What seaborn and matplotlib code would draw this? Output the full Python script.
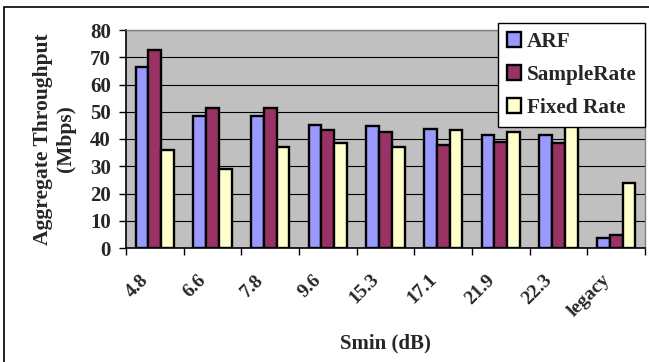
import numpy as np
import pandas as pd
import matplotlib
matplotlib.use('Agg')
import matplotlib.pyplot as plt
from matplotlib.patches import Rectangle
from matplotlib.ticker import FixedLocator
from matplotlib.transforms import ScaledTranslation
import seaborn as sns

# values
smin_labels = ['4.8', '6.6', '7.8', '9.6', '15.3', '17.1', '21.9', '22.3', 'legacy']
arf = [66.5, 48.5, 48.5, 45.0, 44.8, 43.6, 41.5, 41.5, 3.7]
samplerate = [72.6, 51.3, 51.3, 43.3, 42.4, 37.8, 38.8, 38.5, 4.9]
fixed_rate = [35.8, 28.9, 37.2, 38.7, 37.0, 43.2, 42.6, 46.0, 23.7]
methods = ['ARF', 'SampleRate', 'Fixed Rate']
colors = ['#9999FF', '#993366', '#FFFFCC']

rows = []
for name, vals in zip(methods, [arf, samplerate, fixed_rate]):
    for lbl, v in zip(smin_labels, vals):
        rows.append({'Smin': lbl, 'method': name, 'throughput': v})
df = pd.DataFrame(rows)

sns.set_style('white')
plt.rcParams['font.family'] = ['Liberation Serif', 'DejaVu Serif']
plt.rcParams['font.weight'] = 'bold'

fig = plt.figure(figsize=(6.49, 3.62), dpi=100)
ax = fig.add_axes([126 / 649, 114 / 362, 519 / 649, 218 / 362])
ax.set_facecolor('#C0C0C0')
ax.set_axisbelow(True)
ax.yaxis.grid(True, color='black', linewidth=0.8)

sns.barplot(data=df, x='Smin', y='throughput', hue='method', order=smin_labels,
            hue_order=methods, palette=colors, width=0.66, edgecolor='black',
            linewidth=1.7, saturation=1, ax=ax, zorder=2)

ax.set_xlim(-0.5, len(smin_labels) - 0.5)
ax.set_ylim(0, 80)
ax.set_yticks(np.arange(0, 81, 10))
ax.tick_params(axis='y', direction='out', length=5, width=1, color='black',
               labelsize=15, pad=6, left=True)

# category ticks between groups, labels at group centres
ax.xaxis.set_minor_locator(FixedLocator(np.arange(-0.5, len(smin_labels), 1.0)))
ax.tick_params(axis='x', which='minor', direction='out', length=5, width=1,
               color='black', bottom=True)
ax.tick_params(axis='x', which='major', length=0, pad=21, labelsize=14)
shift = ScaledTranslation(-9 / 100, 0, fig.dpi_scale_trans)
for t in ax.get_xticklabels():
    t.set_rotation(45)
    t.set_ha('right')
    t.set_va('center')
    t.set_rotation_mode('anchor')
    t.set_fontweight('bold')
    t.set_transform(t.get_transform() + shift)
for t in ax.get_yticklabels():
    t.set_fontweight('bold')

for s in ['left', 'bottom']:
    ax.spines[s].set_color('black')
    ax.spines[s].set_linewidth(1.2)
for s in ['top', 'right']:
    ax.spines[s].set_color('#808080')
    ax.spines[s].set_linewidth(1)

ax.set_xlabel('Smin (dB)', fontsize=15, fontweight='bold', labelpad=10)
ax.set_ylabel('Aggregate Throughput\n(Mbps)', fontsize=15.5, fontweight='bold',
              labelpad=10, linespacing=1.2)

leg = ax.legend(loc='upper right', bbox_to_anchor=(1.0, 1.03), borderaxespad=0,
                frameon=True, fancybox=False, framealpha=1, edgecolor='black',
                prop={'size': 15.3, 'weight': 'bold'}, handlelength=0.7,
                handleheight=0.7, handletextpad=0.25, labelspacing=0.62,
                borderpad=0.4)
leg.get_frame().set_linewidth(1)
leg.set_zorder(5)
for h in leg.legend_handles:
    h.set_edgecolor('black')
    h.set_linewidth(1.7)

# outer frame of the figure
fig.add_artist(Rectangle((4 / 649, -0.05), 1.0, 1.05 - 7 / 362,
                         transform=fig.transFigure, fill=False,
                         edgecolor='black', linewidth=1.2))

fig.savefig('out.png', dpi=100)
